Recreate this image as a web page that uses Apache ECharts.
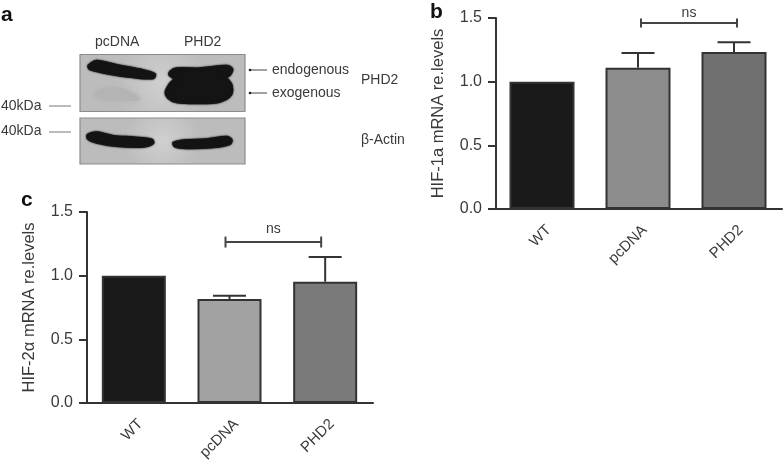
<!DOCTYPE html>
<html><head><meta charset="utf-8">
<style>html,body{margin:0;padding:0;background:#fff}#c{width:784px;height:465px;filter:blur(0.45px)}</style>
<script src="https://cdn.jsdelivr.net/npm/echarts@6/dist/echarts.min.js"></script>
</head><body><div id="c"></div>
<script>
const categories = ['WT', 'pcDNA', 'PHD2'];
const yTicks = [0, 0.5, 1.0, 1.5];
const hif1Means = [1.0, 1.11, 1.233];
const hif1Tops = [null, 1.225, 1.31];
const hif1Colors = ['#1a1a1a', '#8c8c8c', '#707070'];
const hif1Bracket = [1, 2, 1.46];
const hif2Means = [1.0, 0.817, 0.953];
const hif2Tops = [null, 0.843, 1.147];
const hif2Colors = ['#1a1a1a', '#a2a2a2', '#7a7a7a'];
const hif2Bracket = [1, 2, 1.264];
const bracketLabel = 'ns';

const FONT = '"Liberation Sans", Arial, sans-serif';
const INK = '#3a3a3a', LINE = '#333';

function xAxis(gridIndex) {
  return {
    type: 'category', gridIndex, data: categories, boundaryGap: true,
    axisLine: {lineStyle: {color: LINE, width: 2}},
    axisTick: {alignWithLabel: true, length: 7, lineStyle: {color: LINE, width: 2}},
    axisLabel: {rotate: 45, fontSize: 15, fontFamily: FONT, color: INK, margin: 12, interval: 0, verticalAlign: 'top', padding: [2, 0, 0, 0]}
  };
}
function yAxis(gridIndex, name, offset) {
  return {
    type: 'value', gridIndex, min: 0, max: yTicks[yTicks.length - 1], interval: yTicks[1] - yTicks[0],
    offset, name, nameLocation: 'middle', nameGap: 49, nameRotate: 90,
    nameTextStyle: {fontSize: 16.5, fontFamily: FONT, color: INK},
    splitLine: {show: false},
    axisLine: {show: true, onZero: false, lineStyle: {color: LINE, width: 2}},
    axisTick: {show: true, length: 8, lineStyle: {color: LINE, width: 2}},
    axisLabel: {fontSize: 16, fontFamily: FONT, color: INK, margin: 14, formatter: v => v.toFixed(1)}
  };
}
function bars(idx, means, colors, width) {
  return {
    type: 'bar', xAxisIndex: idx, yAxisIndex: idx, barWidth: width, z: 2,
    data: means.map((v, i) => ({value: v, itemStyle: {color: colors[i], borderColor: LINE, borderWidth: 2}}))
  };
}
function errors(idx, means, tops) {
  const rows = [];
  tops.forEach((t, i) => { if (t !== null) rows.push([i, means[i], t]); });
  return {
    type: 'custom', xAxisIndex: idx, yAxisIndex: idx, z: 1, silent: true,
    encode: {x: 0, y: [1, 2]}, data: rows,
    renderItem(p, api) {
      const a = api.coord([api.value(0), api.value(1)]);
      const b = api.coord([api.value(0), api.value(2)]);
      const style = {stroke: LINE, lineWidth: 2, fill: null};
      return {type: 'group', children: [
        {type: 'line', shape: {x1: a[0], y1: a[1], x2: b[0], y2: b[1]}, style},
        {type: 'line', shape: {x1: b[0] - 16.5, y1: b[1], x2: b[0] + 16.5, y2: b[1]}, style}
      ]};
    }
  };
}
function bracket(idx, spec, dx, tickHalf, labelGap) {
  return {
    type: 'custom', xAxisIndex: idx, yAxisIndex: idx, z: 3, silent: true,
    encode: {x: [0, 1], y: 2}, data: [spec],
    renderItem(p, api) {
      const a = api.coord([api.value(0), api.value(2)]);
      const b = api.coord([api.value(1), api.value(2)]);
      const x1 = a[0] + dx, x2 = b[0] + dx, y = a[1];
      const style = {stroke: '#444', lineWidth: 2, fill: null};
      return {type: 'group', children: [
        {type: 'line', shape: {x1, y1: y, x2, y2: y}, style},
        {type: 'line', shape: {x1, y1: y - tickHalf, x2: x1, y2: y + tickHalf}, style},
        {type: 'line', shape: {x1: x2, y1: y - tickHalf, x2, y2: y + tickHalf}, style},
        {type: 'text', style: {text: bracketLabel, x: (x1 + x2) / 2, y: y - labelGap, align: 'center', verticalAlign: 'middle', fontSize: 14, fontFamily: FONT, fill: INK}}
      ]};
    }
  };
}

// Panel a: the blot picture and its annotations
function txt(text, x, y, size, weight, color) {
  return {type: 'text', z: 20, style: {text, x, y, fontSize: size || 14, fontFamily: FONT, fontWeight: weight || 'normal', fill: color || INK, verticalAlign: 'middle', align: 'left'}};
}
function blotRect(x, y, w, h) {
  return {type: 'rect', z: 10, shape: {x, y, width: w, height: h}, style: {
    fill: {type: 'radial', x: .5, y: .5, r: .8, colorStops: [{offset: 0, color: '#d0d0d0'}, {offset: 1, color: '#bcbcbc'}]},
    stroke: '#8c8c8c', lineWidth: 1.2}};
}
function band(zoomPts, color, blur, thick) {
  const c = color || '#141414';
  return {type: 'polygon', z: 12, shape: {points: zoomPts.map(p => [p[0] / 3, p[1] / 3]), smooth: 0.3},
    style: {fill: c, stroke: c, lineWidth: thick === undefined ? 2 : thick, lineJoin: 'round', shadowBlur: blur === undefined ? 2 : blur, shadowColor: c}};
}
function grayLine(x1, x2, y, color, w) {
  return {type: 'line', z: 15, shape: {x1, y1: y, x2, y2: y}, style: {stroke: color || '#aaa', lineWidth: w || 1.6}};
}
const blot = [
  txt('a', 1, 15, 21, 'bold', '#111'), txt('b', 430, 12, 21, 'bold', '#111'), txt('c', 21, 200, 21, 'bold', '#111'),
  blotRect(80, 54.5, 165, 57), blotRect(80, 118, 165, 46),
  band([[285,275],[350,262],[410,285],[420,300],[360,302],[290,295]], '#b4b4b4', 5, 0),
  band([[265,197],[290,182],[350,195],[420,208],[465,222],[460,235],[400,232],[330,222],[270,208]]),
  band([[510,215],[530,205],[600,205],[680,197],[697,207],[690,225],[680,232],[695,255],[693,285],[660,305],[600,310],[530,307],[505,295],[497,275],[510,250],[522,237],[508,225]]),
  band([[262,405],[290,397],[340,408],[400,412],[455,418],[460,430],[430,440],[350,438],[290,428],[265,418]]),
  band([[520,428],[560,420],[620,418],[680,410],[695,420],[690,432],[640,442],[560,445],[525,440]]),
  txt('pcDNA', 95, 42), txt('PHD2', 184, 42),
  txt('endogenous', 272, 70), txt('exogenous', 272, 93), txt('PHD2', 361, 80), txt('β-Actin', 361, 140),
  txt('40kDa', 1, 106), txt('40kDa', 1, 131),
  grayLine(49, 71, 106), grayLine(49, 71, 132),
  grayLine(251, 267, 70, '#444', 1), grayLine(251, 267, 93, '#444', 1),
  {type: 'circle', z: 15, shape: {cx: 250, cy: 70, r: 1.3}, style: {fill: '#222'}},
  {type: 'circle', z: 15, shape: {cx: 250, cy: 93, r: 1.3}, style: {fill: '#222'}}
];

const chart = echarts.init(document.getElementById('c'), null, {renderer: 'canvas'});
chart.setOption({
  animation: false,
  backgroundColor: '#fff',
  textStyle: {fontFamily: FONT},
  grid: [
    {left: 494, top: 18, width: 288, height: 191, containLabel: false},
    {left: 86, top: 212, width: 287, height: 191, containLabel: false}
  ],
  xAxis: [xAxis(0), xAxis(1)],
  yAxis: [yAxis(0, 'HIF-1a mRNA re.levels', -2), yAxis(1, 'HIF-2α mRNA re.levels', -1)],
  series: [
    errors(0, hif1Means, hif1Tops), bars(0, hif1Means, hif1Colors, 65), bracket(0, hif1Bracket, 3, 4.5, 10),
    errors(1, hif2Means, hif2Tops), bars(1, hif2Means, hif2Colors, 64), bracket(1, hif2Bracket, -4, 5.5, 13)
  ],
  graphic: blot
});
</script></body></html>
